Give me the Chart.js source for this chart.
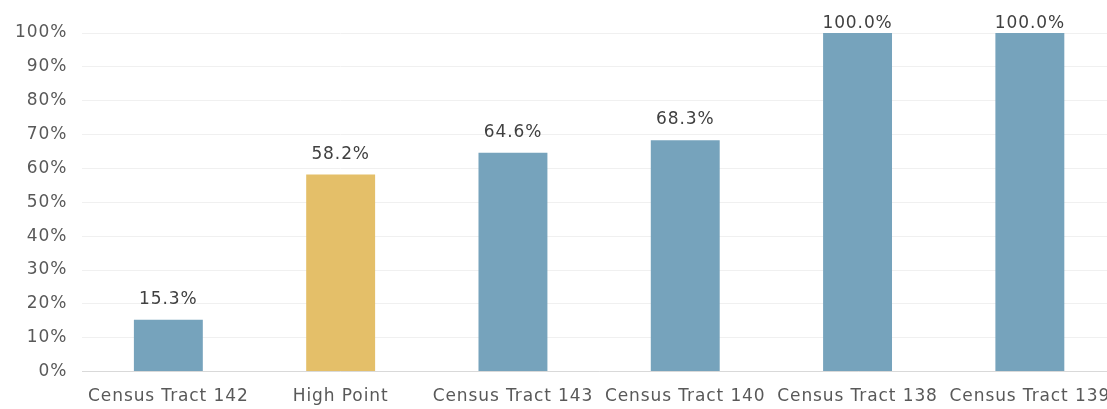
<!DOCTYPE html>
<html>
<head>
<meta charset="utf-8">
<script src="https://cdn.jsdelivr.net/npm/chart.js@4/dist/chart.umd.min.js"></script>
<style>
  html, body { margin: 0; padding: 0; background: #fff; overflow: hidden; }
  #wrap { width: 1116px; height: 422px; position: relative; }
</style>
</head>
<body>
<div id="wrap"><canvas id="c"></canvas></div>
<script>
const categories = ["Census Tract 142", "High Point", "Census Tract 143", "Census Tract 140", "Census Tract 138", "Census Tract 139"];
const values = [15.3, 58.2, 64.6, 68.3, 100.0, 100.0];
const barColors = ["#76A3BC", "#E4BF69", "#76A3BC", "#76A3BC", "#76A3BC", "#76A3BC"];
const yTicks = [0, 10, 20, 30, 40, 50, 60, 70, 80, 90, 100];

const FONT = "'DejaVu Sans', sans-serif";
const SPACING = "0.9px";

const spacingPlugin = {
  id: 'spacing',
  beforeLayout(chart) { chart.ctx.letterSpacing = SPACING; },
  beforeDraw(chart) { chart.ctx.letterSpacing = SPACING; }
};

const labelPlugin = {
  id: 'barLabels',
  afterDatasetsDraw(chart) {
    const ctx = chart.ctx;
    const meta = chart.getDatasetMeta(0);
    ctx.save();
    ctx.letterSpacing = SPACING;
    ctx.font = "17px " + FONT;
    ctx.fillStyle = "#404040";
    ctx.textAlign = "center";
    ctx.textBaseline = "alphabetic";
    meta.data.forEach((el, i) => {
      const y = Math.max(el.y - 16, 28);
      ctx.fillText(values[i].toFixed(1) + "%", el.x, y);
    });
    ctx.restore();
  }
};

new Chart(document.getElementById('c'), {
  type: 'bar',
  data: {
    labels: categories,
    datasets: [{
      data: values,
      backgroundColor: barColors,
      borderWidth: 0,
      categoryPercentage: 1.0,
      barPercentage: 0.4
    }]
  },
  options: {
    responsive: true,
    maintainAspectRatio: false,
    animation: false,
    devicePixelRatio: 1,
    layout: { padding: { top: 33, left: 0, right: 0, bottom: 0 } },
    plugins: { legend: { display: false }, tooltip: { enabled: false } },
    scales: {
      x: {
        afterFit(axis) { axis.paddingLeft = 0; axis.paddingRight = 0; },
        grid: { display: false, drawTicks: false },
        border: { display: true, color: "#D9D9D9", width: 1 },
        ticks: { color: "#595959", font: { size: 17, family: FONT }, padding: 15, maxRotation: 0, autoSkip: false }
      },
      y: {
        min: 0, max: 100,
        afterBuildTicks(axis) { axis.ticks = yTicks.map(v => ({ value: v })); },
        grid: { color: "#F0F0F0", lineWidth: 1, drawTicks: false },
        border: { display: false },
        ticks: { color: "#595959", font: { size: 17, family: FONT }, padding: 15, callback: v => v + "%" }
      }
    }
  },
  plugins: [spacingPlugin, labelPlugin]
});
</script>
</body>
</html>
